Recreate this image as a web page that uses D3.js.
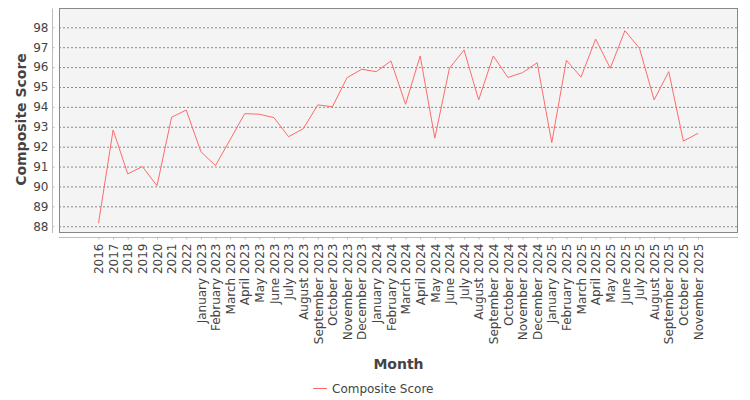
<!DOCTYPE html>
<html>
<head>
<meta charset="utf-8">
<script src="https://cdn.jsdelivr.net/npm/d3@7"></script>
<style>
  body { margin: 0; background: #fff; }
  svg { display: block; font-family: "DejaVu Sans", sans-serif; }
</style>
</head>
<body>
<svg id="chart" width="750" height="400"></svg>
<script>
// Categories (x axis)
const months = [
  "2016", "2017", "2018", "2019", "2020", "2021", "2022",
  "January 2023", "February 2023", "March 2023", "April 2023", "May 2023", "June 2023",
  "July 2023", "August 2023", "September 2023", "October 2023", "November 2023", "December 2023",
  "January 2024", "February 2024", "March 2024", "April 2024", "May 2024", "June 2024",
  "July 2024", "August 2024", "September 2024", "October 2024", "November 2024", "December 2024",
  "January 2025", "February 2025", "March 2025", "April 2025", "May 2025", "June 2025",
  "July 2025", "August 2025", "September 2025", "October 2025", "November 2025"
];
// Composite Score series
const scores = [
  88.15, 92.84, 90.63, 91.00, 90.03, 93.48, 93.84,
  91.75, 91.05, 92.35, 93.66, 93.63, 93.46,
  92.50, 92.90, 94.10, 94.01, 95.47, 95.89,
  95.77, 96.31, 94.13, 96.56, 92.43, 95.94,
  96.86, 94.35, 96.56, 95.48, 95.72, 96.22,
  92.20, 96.34, 95.50, 97.41, 95.94, 97.83,
  96.94, 94.35, 95.77, 92.28, 92.67
];
const yTicks = [88, 89, 90, 91, 92, 93, 94, 95, 96, 97, 98];

const data = months.map((m, i) => ({ month: m, value: scores[i] }));

const svg = d3.select("#chart");
const margin = { top: 8, right: 12, bottom: 167, left: 59 };
const width = 750 - margin.left - margin.right;
const height = 400 - margin.top - margin.bottom;
const font = "'DejaVu Sans', sans-serif";

const g = svg.append("g")
    .attr("transform", `translate(${margin.left}, ${margin.top})`);

// scales
const xScale = d3.scalePoint()
    .domain(months)
    .range([39.5, width - 40]);

const yScale = d3.scaleLinear()
    .domain([87.66, 98.97])
    .range([height, 0]);

// plot background
g.append("rect")
    .attr("width", width)
    .attr("height", height)
    .attr("fill", "#f4f4f4");

// gridlines
g.selectAll(".grid")
    .data(yTicks)
    .enter()
    .append("line")
    .attr("x1", 0)
    .attr("x2", width)
    .attr("y1", d => yScale(d) + 0.5)
    .attr("y2", d => yScale(d) + 0.5)
    .attr("stroke", "#8a8a8a")
    .attr("stroke-width", 1)
    .attr("stroke-dasharray", "2,2");

// frame
g.append("rect")
    .attr("x", 0.5)
    .attr("y", 0.5)
    .attr("width", width - 1)
    .attr("height", height - 1)
    .attr("fill", "none")
    .attr("stroke", "#888");

// y axis, offset 4px to the left
const yAxis = d3.axisLeft(yScale).tickValues(yTicks).tickSize(2).tickPadding(4);
const yG = g.append("g")
    .attr("transform", "translate(-4.5, 0)")
    .call(yAxis)
    .attr("font-family", font);
yG.select(".domain").attr("stroke", "#bbb").attr("d", `M-2,0.5V${height}`);
yG.selectAll(".tick line").attr("stroke", "#bbb");
yG.selectAll("text")
    .attr("fill", "#444")
    .style("font-family", font)
    .style("font-size", "12px");

// x axis, offset 4px down
const xAxis = d3.axisBottom(xScale).tickSize(2).tickPadding(4);
const xG = g.append("g")
    .attr("transform", `translate(0, ${height + 4.5})`)
    .call(xAxis)
    .attr("font-family", font);
xG.select(".domain").attr("stroke", "#bbb").attr("d", `M0,0H${width}`);
xG.selectAll(".tick line").attr("stroke", "#bbb");
xG.selectAll("text")
    .attr("transform", "rotate(-90)")
    .style("text-anchor", "end")
    .attr("x", -6)
    .attr("y", 0)
    .attr("dy", "0.35em")
    .attr("fill", "#444")
    .style("font-family", font)
    .style("font-size", "12px");

// the line
const line = d3.line()
    .x(d => xScale(d.month))
    .y(d => yScale(d.value));

g.append("path")
    .datum(data)
    .attr("d", line)
    .attr("fill", "none")
    .attr("stroke", "#ff6b6b")
    .attr("stroke-width", 1);

// axis titles
svg.append("text")
    .attr("transform", `translate(26, ${margin.top + height / 2 - 1}) rotate(-90)`)
    .attr("text-anchor", "middle")
    .attr("fill", "#444")
    .style("font-size", "14px")
    .style("font-weight", "bold")
    .text("Composite Score");

svg.append("text")
    .attr("x", margin.left + width / 2)
    .attr("y", 369)
    .attr("text-anchor", "middle")
    .attr("fill", "#444")
    .style("font-size", "14px")
    .style("font-weight", "bold")
    .text("Month");

// legend
const legend = svg.append("g").attr("transform", "translate(313, 388)");
legend.append("line")
    .attr("x1", 0)
    .attr("x2", 14)
    .attr("y1", 0.5)
    .attr("y2", 0.5)
    .attr("stroke", "#ff6b6b");
legend.append("text")
    .attr("x", 19)
    .attr("y", 4.5)
    .attr("fill", "#444")
    .style("font-size", "12px")
    .text("Composite Score");
</script>
</body>
</html>
